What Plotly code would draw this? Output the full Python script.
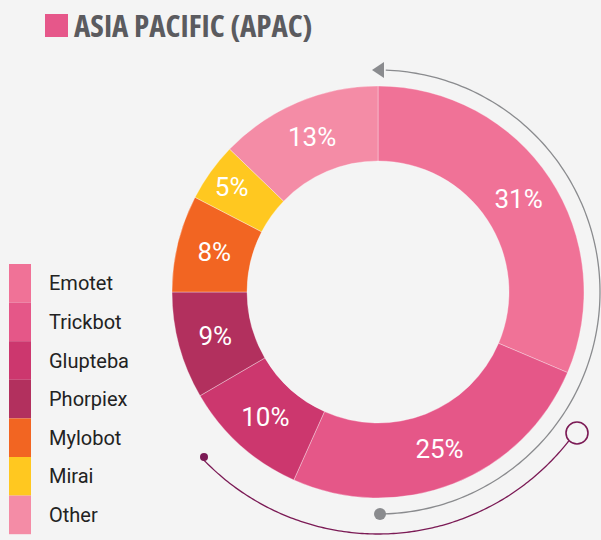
import numpy as np
import plotly.graph_objects as go

# ---- data ----
categories = ["Emotet", "Trickbot", "Glupteba", "Phorpiex", "Mylobot", "Mirai", "Other"]
shares = [31.4, 25.3, 9.9, 8.4, 7.6, 4.6, 12.8]          # slice sizes
pct_labels = ["31%", "25%", "10%", "9%", "8%", "5%", "13%"]  # printed labels
colors = ["#F07297", "#E55788", "#CC376E", "#B2305E", "#F26522", "#FFC820", "#F48CA6"]
title_text = "ASIA PACIFIC (APAC)"

W, H = 601, 540
BG = "#F4F4F4"
cx, cy, R = 378, 292, 206

fig = go.Figure()

fig.add_trace(go.Pie(
    values=shares,
    labels=categories,
    text=pct_labels,
    textinfo="text",
    textposition="inside",
    insidetextorientation="horizontal",
    textfont=dict(family="Roboto", size=26, color="white"),
    marker=dict(colors=colors, line=dict(color="rgba(255,255,255,0.55)", width=0.6)),
    sort=False,
    direction="clockwise",
    rotation=0,
    hole=131 / 206,
    domain=dict(x=[(cx - R) / W, (cx + R) / W],
                y=[(H - (cy + R)) / H, (H - (cy - R)) / H]),
    showlegend=False,
    hoverinfo="skip",
))

fig.update_xaxes(range=[0, W], visible=False, fixedrange=True)
fig.update_yaxes(range=[H, 0], visible=False, fixedrange=True)
fig.add_trace(go.Scatter(x=[0], y=[0], mode="markers", marker=dict(opacity=0),
                         showlegend=False, hoverinfo="skip"))

shapes = []
annotations = []

def arc_path(r, a0, a1, n=160):
    t = np.radians(np.linspace(a0, a1, n))
    xs = cx + r * np.sin(t)
    ys = cy - r * np.cos(t)
    return "M " + " L ".join(f"{x:.2f},{y:.2f}" for x, y in zip(xs, ys))

GRAY = "#8A8B8E"
MAROON = "#7B1A55"

# gray arc with arrow head and start dot
shapes.append(dict(type="path", xref="x", yref="y", path=arc_path(222, 179.5, 2.0),
                   line=dict(color=GRAY, width=1.3)))
shapes.append(dict(type="path", xref="x", yref="y",
                   path="M 372,70 L 384,62 L 384,78 Z", fillcolor=GRAY, line=dict(width=0)))
shapes.append(dict(type="circle", xref="x", yref="y", x0=374, x1=386, y0=508, y1=520,
                   fillcolor=GRAY, line=dict(width=0)))

# maroon arc with dot and open circle
shapes.append(dict(type="path", xref="x", yref="y", path=arc_path(242, 128.0, 226.5),
                   line=dict(color=MAROON, width=1.3)))
shapes.append(dict(type="circle", xref="x", yref="y", x0=200, x1=208, y0=453, y1=461,
                   fillcolor=MAROON, line=dict(width=0)))
shapes.append(dict(type="circle", xref="x", yref="y", x0=566, x1=588, y0=422, y1=444,
                   fillcolor=BG, line=dict(color=MAROON, width=1.6)))

# title
shapes.append(dict(type="rect", xref="x", yref="y", x0=45, x1=68, y0=14, y1=37,
                   fillcolor="#E6578A", line=dict(width=0)))
annotations.append(dict(x=72, y=25, xref="x", yref="y", xanchor="left", yanchor="middle",
                        text=f"<span style=\"font-stretch:75%\"><b>{title_text}</b></span>",
                        showarrow=False,
                        font=dict(family="Open Sans", size=31, color="#5B5B5F")))

# legend
top, step = 264, 38.6
for i, (name, col) in enumerate(zip(categories, colors)):
    y0 = top + i * step
    shapes.append(dict(type="rect", xref="x", yref="y", x0=9, x1=31, y0=y0, y1=y0 + step,
                       fillcolor=col, line=dict(width=0)))
    annotations.append(dict(x=47, y=y0 + step / 2, xref="x", yref="y", xanchor="left", yanchor="middle",
                            text=name, showarrow=False,
                            font=dict(family="Roboto", size=20, color="#222222")))

fig.update_layout(
    width=W, height=H,
    margin=dict(l=0, r=0, t=0, b=0),
    paper_bgcolor=BG, plot_bgcolor=BG,
    shapes=shapes, annotations=annotations,
    showlegend=False,
)

fig.write_html("out.html", config={"displayModeBar": False, "staticPlot": True},
               post_script="document.body.style.margin='0';document.body.style.background='#F4F4F4';")
